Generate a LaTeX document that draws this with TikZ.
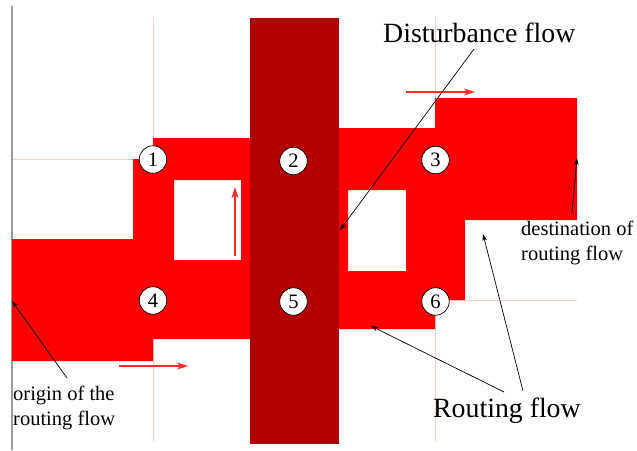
\documentclass[tikz,border=0pt]{standalone}
\usepackage{fontspec}
\setmainfont{Liberation Serif}
\usetikzlibrary{arrows.meta}
\definecolor{flowred}{HTML}{FF0000}
\definecolor{distred}{HTML}{B30000}
\definecolor{gridpink}{HTML}{FFCCCC}
\definecolor{arrowred}{HTML}{FF2A2A}
\definecolor{axisgray}{HTML}{9A9A9A}
\tikzset{
  gridline/.style={draw=gridpink, line width=0.9pt},
  circnum/.style={circle, draw=black, line width=0.7pt, fill=white, inner sep=0pt,
    minimum size=27.5pt, font=\fontsize{20.5}{24}\selectfont},
  biglabel/.style={inner sep=0pt, anchor=base west, font=\fontsize{27.8}{32}\selectfont},
  smalllabel/.style={inner sep=0pt, anchor=base west, font=\fontsize{20.5}{25}\selectfont},
  blackarrow/.style={draw=black, line width=0.7pt, -{Stealth[length=7pt,width=4.5pt]}},
  redarrow/.style={draw=arrowred, line width=1.4pt, -{Stealth[length=11pt,width=7pt,inset=3pt]}},
}
\begin{document}
\begin{tikzpicture}[x=1pt,y=-1pt]
\useasboundingbox (0,0) rectangle (637,450);
% grid lines
\draw[gridline] (153,18) -- (153,442);
\draw[gridline] (435,18) -- (435,442);
\draw[gridline] (12,159) -- (577,159);
\draw[gridline] (12,300) -- (577,300);
% gray axis
\draw[axisgray, line width=2pt] (12,6) -- (12,450);
% routing flow regions
\fill[flowred, even odd rule]
  (12,239) -- (133,239) -- (133,159) -- (153,159) -- (153,138) -- (250,138)
  -- (250,339) -- (153,339) -- (153,361) -- (12,361) -- cycle
  (174,180) rectangle (241,260);
\fill[flowred, even odd rule]
  (339,128) -- (435,128) -- (435,98) -- (577,98) -- (577,220) -- (465,220)
  -- (465,300) -- (435,300) -- (435,329) -- (339,329) -- cycle
  (348,190) rectangle (406,271);
% disturbance flow column
\fill[distred] (250,18) rectangle (339,444);
% numbered points
\node[circnum] (n1) at (153,159.5) {1};
\node[circnum] (n2) at (293.5,161) {2};
\node[circnum] (n3) at (435.5,160) {3};
\node[circnum] (n4) at (153,300.5) {4};
\node[circnum] (n5) at (293.5,301.5) {5};
\node[circnum] (n6) at (435.5,301.5) {6};
% red direction arrows
\coordinate (rtA) at (406,92);
\coordinate (rtB) at (475,92);
\coordinate (rbA) at (119,366);
\coordinate (rbB) at (188,366);
\coordinate (rvA) at (235,256);
\coordinate (rvB) at (235,187);
\draw[redarrow] (rtA) -- (rtB);
\draw[redarrow] (rbA) -- (rbB);
\draw[redarrow] (rvA) -- (rvB);
% labels
\node[biglabel] (dist) at (383,42) {Disturbance flow};
\node[biglabel] (rout) at (433,417) {Routing flow};
\node[smalllabel] (orig1) at (13,400) {origin of the};
\node[smalllabel] (orig2) at (13,425) {routing flow};
\node[smalllabel] (dest1) at (521,235) {destination of};
\node[smalllabel] (dest2) at (521,260) {routing flow};
% annotation arrows
\coordinate (distS) at (474,49);
\coordinate (distT) at (340,230);
\coordinate (origS) at (67,378);
\coordinate (origT) at (12,301);
\coordinate (destS) at (572,213);
\coordinate (destT) at (577,158);
\coordinate (routS1) at (504,392);
\coordinate (routT1) at (371,326);
\coordinate (routS2) at (523,391);
\coordinate (routT2) at (483,234);
\draw[blackarrow] (distS) -- (distT);
\draw[blackarrow] (origS) -- (origT);
\draw[blackarrow] (destS) -- (destT);
\draw[blackarrow] (routS1) -- (routT1);
\draw[blackarrow] (routS2) -- (routT2);
\end{tikzpicture}
\end{document}
